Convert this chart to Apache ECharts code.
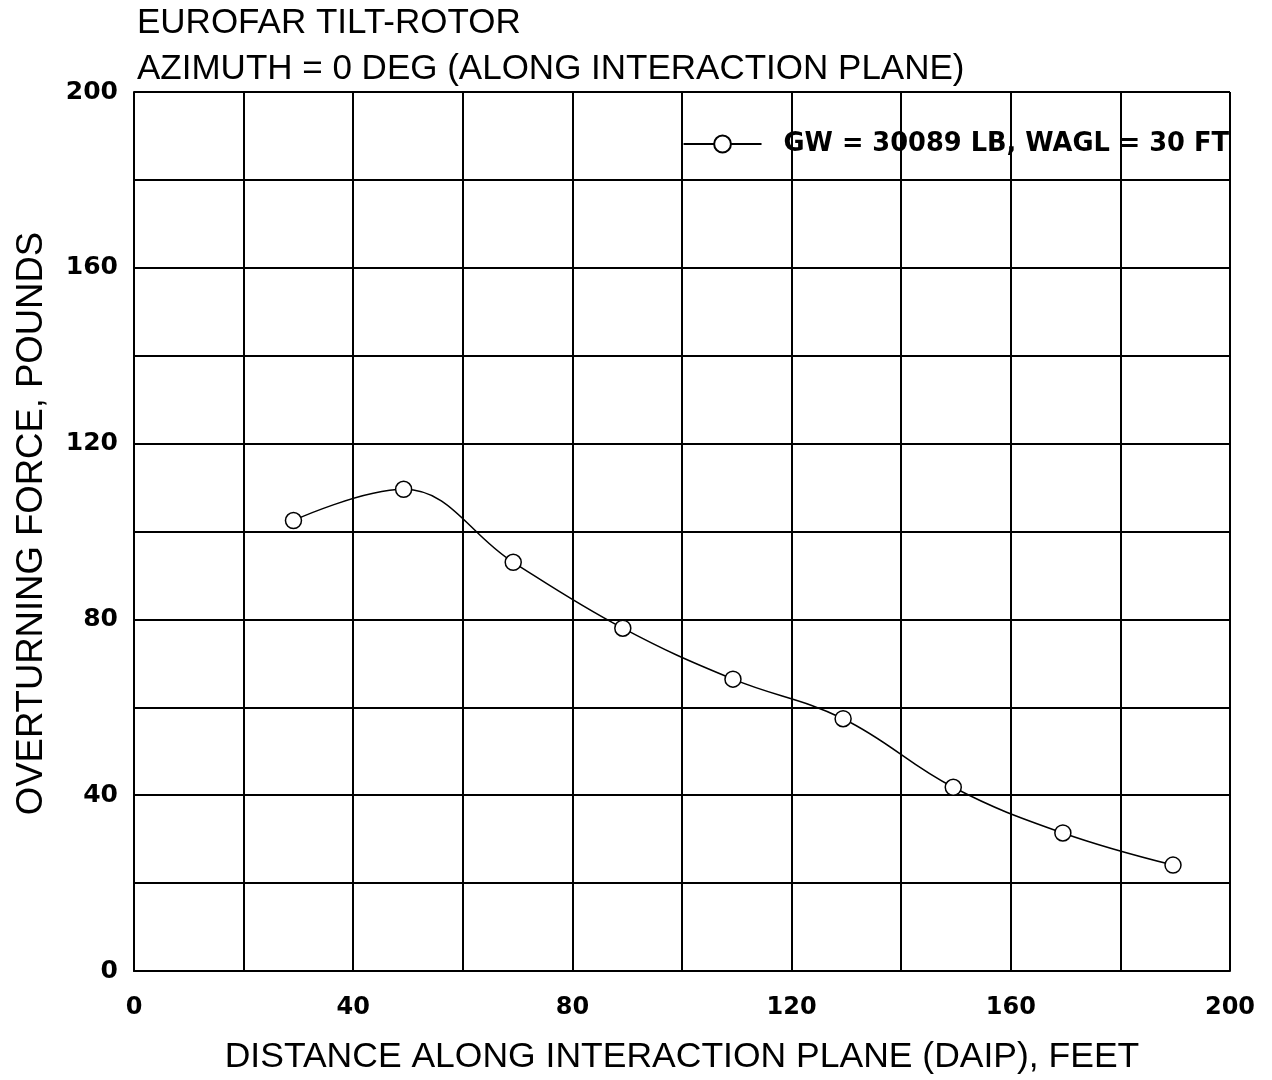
<!DOCTYPE html>
<html><head><meta charset="utf-8">
<script src="https://cdn.jsdelivr.net/npm/echarts@6/dist/echarts.min.js"></script>
<style>html,body{margin:0;padding:0;background:#fff}#c{width:1272px;height:1080px}</style>
</head><body><div id="c"></div>
<script>
const titleLines = ["EUROFAR TILT-ROTOR", "AZIMUTH = 0 DEG (ALONG INTERACTION PLANE)"];
const xName = "DISTANCE ALONG INTERACTION PLANE (DAIP), FEET";
const yName = "OVERTURNING FORCE, POUNDS";
const seriesName = "GW = 30089 LB, WAGL = 30 FT";
const distance = [29.1, 49.2, 69.2, 89.2, 109.3, 129.4, 149.5, 169.5, 189.6];
const force = [102.5, 109.6, 93.0, 78.0, 66.4, 57.4, 41.8, 31.4, 24.1];
const xTicks = [0, 40, 80, 120, 160, 200];
const yTicks = [0, 40, 80, 120, 160, 200];

const F = "'Liberation Sans', Arial, sans-serif";
const FB = "'DejaVu Sans', 'Liberation Sans', Arial, sans-serif";
const chart = echarts.init(document.getElementById('c'), null, {renderer: 'canvas'});
chart.setOption({
  animation: false,
  backgroundColor: '#fff',
  title: {
    text: titleLines.join('\n'),
    left: 132, top: -5,
    textStyle: {fontFamily: F, fontSize: 35, fontWeight: 'normal', color: '#000', lineHeight: 46}
  },
  legend: {
    right: 38, top: 126,
    itemWidth: 78, itemHeight: 21, itemGap: 10,
    data: [seriesName],
    textStyle: {fontFamily: FB, fontSize: 25.7, fontWeight: 'bold', color: '#000', padding: [0, 0, 0, 17]}
  },
  grid: {left: 134, right: 42, top: 92, bottom: 108, containLabel: false},
  xAxis: {
    type: 'value', min: 0, max: 200, interval: 20,
    name: xName, nameLocation: 'middle', nameGap: 68,
    nameTextStyle: {fontFamily: F, fontSize: 35.5, color: '#000'},
    axisLine: {show: true, lineStyle: {color: '#000', width: 2}},
    axisTick: {show: false},
    splitLine: {show: true, lineStyle: {color: '#000', width: 2}},
    axisLabel: {
      fontFamily: FB, fontSize: 24, fontWeight: 'bold', color: '#000', margin: 25,
      formatter: v => xTicks.includes(v) ? String(v) : ''
    }
  },
  yAxis: {
    type: 'value', min: 0, max: 200, interval: 20,
    name: yName, nameLocation: 'middle', nameGap: 84,
    nameTextStyle: {fontFamily: F, fontSize: 36.5, color: '#000', padding: [0, 0, 0, 16]},
    axisLine: {show: true, lineStyle: {color: '#000', width: 2}},
    axisTick: {show: false},
    splitLine: {show: true, lineStyle: {color: '#000', width: 2}},
    axisLabel: {
      fontFamily: FB, fontSize: 25, fontWeight: 'bold', color: '#000', margin: 16,
      formatter: v => yTicks.includes(v) ? String(v) : ''
    }
  },
  series: [{
    name: seriesName,
    type: 'line',
    data: distance.map((x, i) => [x, force[i]]),
    smooth: 0.4,
    symbol: 'circle', symbolSize: 16,
    lineStyle: {color: '#000', width: 1.5},
    itemStyle: {color: '#fff', borderColor: '#000', borderWidth: 1.5}
  }]
});
</script></body></html>
